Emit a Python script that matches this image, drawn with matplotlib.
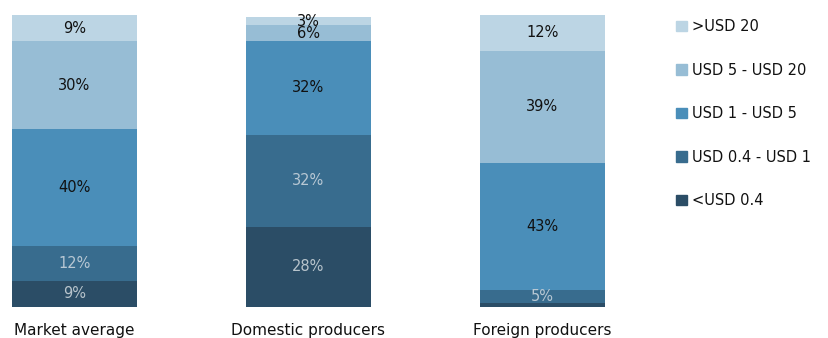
import matplotlib.pyplot as plt
from matplotlib.patches import Patch

categories = ["Market average", "Domestic producers", "Foreign producers"]
bands = ["<USD 0.4", "USD 0.4 - USD 1", "USD 1 - USD 5", "USD 5 - USD 20", ">USD 20"]

# share of each price band, bottom to top, per category
under_04 = [9, 27.5, 1.3]
usd_04_1 = [12, 31.5, 4.5]
usd_1_5 = [40, 32, 43.5]
usd_5_20 = [30, 5.5, 38.5]
over_20 = [9, 2.7, 12.2]

labels_under_04 = ["9%", "28%", ""]
labels_04_1 = ["12%", "32%", "5%"]
labels_1_5 = ["40%", "32%", "43%"]
labels_5_20 = ["30%", "6%", "39%"]
labels_over_20 = ["9%", "3%", "12%"]

series = [under_04, usd_04_1, usd_1_5, usd_5_20, over_20]
series_labels = [labels_under_04, labels_04_1, labels_1_5, labels_5_20, labels_over_20]
colors = ["#2b4d66", "#386c8e", "#4a8eb9", "#97bdd5", "#bcd5e4"]
text_colors = ["#b8c4cc", "#b8c8d4", "#111111", "#111111", "#111111"]

fig = plt.figure(figsize=(8.29, 3.38), dpi=100)
ax = fig.add_axes([0, 1 - 307 / 338, 1, 292 / 338])

x = list(range(len(categories)))
width = 125 / 234
bottom = [0, 0, 0]
for vals, labs, c, tc in zip(series, series_labels, colors, text_colors):
    ax.bar(x, vals, width, bottom=bottom, color=c, linewidth=0, clip_on=False)
    for i in x:
        if labs[i]:
            ax.text(i, bottom[i] + vals[i] / 2, labs[i], ha="center", va="center",
                    fontsize=10.5, color=tc)
    bottom = [b + v for b, v in zip(bottom, vals)]

left = -width / 2 - 12 / 234
ax.set_xlim(left, left + 829 / 234)
ax.set_ylim(0, 100)
ax.axis("off")

for i, cat in enumerate(categories):
    ax.text(i, -8.2, cat, ha="center", va="center", fontsize=11, color="#111111")

handles = [Patch(color=c, label=b) for c, b in zip(colors, bands)][::-1]
fig.legend(handles=handles, loc="upper left", bbox_to_anchor=(0.8, 0.982),
           frameon=False, fontsize=10.5, labelspacing=1.95, handlelength=0.75,
           handleheight=0.75, handletextpad=0.35, labelcolor="#111111")

fig.savefig("out.png", dpi=100)
